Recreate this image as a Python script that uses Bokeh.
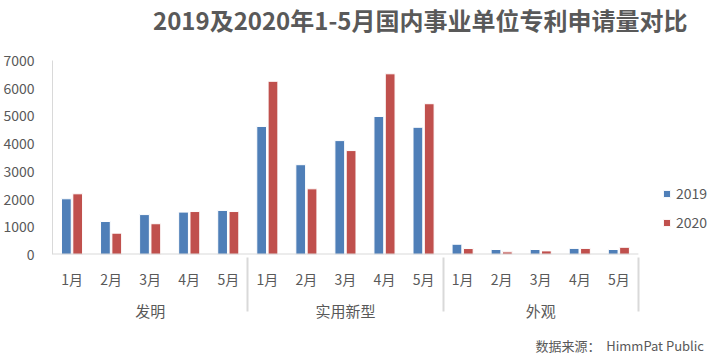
from bokeh.plotting import figure
from bokeh.models import ColumnDataSource, FactorRange, Range1d, Legend, LegendItem, Div
from bokeh.layouts import column
from bokeh.transform import dodge
from bokeh.embed import file_html
from bokeh.resources import INLINE

groups = ["发明", "实用新型", "外观"]
months = ["1月", "2月", "3月", "4月", "5月"]
v2019 = [2010, 1190, 1440, 1530, 1590,
         4620, 3240, 4110, 4980, 4590,
         370, 180, 180, 220, 180]
v2020 = [2190, 770, 1110, 1550, 1550,
         6250, 2370, 3750, 6520, 5440,
         215, 95, 130, 220, 260]
yticks = [0, 1000, 2000, 3000, 4000, 5000, 6000, 7000]
series = ["2019", "2020"]
colors = ["#4F7FB8", "#C0504D"]
title_text = "2019及2020年1-5月国内事业单位专利申请量对比"
source_text = "数据来源：&nbsp;&nbsp;HimmPat Public"

factors = [(g, m) for g in groups for m in months]
# empty slots on the right of the category axis, leaving room for the legend
pad_factors = [(" ", " "), (" ", "  ")]
src = ColumnDataSource(dict(x=factors, y2019=v2019, y2020=v2020))
base = ColumnDataSource(dict(x0=[factors[0]], x1=[factors[-1]], y=[0]))

FONT = "Noto Sans CJK SC"
GRAY = "#595959"
AXIS = "#D9D9D9"

head = Div(text=title_text, width=718, height=30,
           styles={"font-family": FONT, "font-size": "24px", "font-weight": "bold",
                   "color": GRAY, "padding-left": "148px", "line-height": "30px",
                   "white-space": "nowrap", "box-sizing": "border-box", "width": "718px"})

p = figure(width=718, height=292, output_backend="svg", toolbar_location=None,
           x_range=FactorRange(*(factors + pad_factors), group_padding=0, factor_padding=0,
                               range_padding=0),
           y_range=Range1d(0, 7000),
           min_border_left=51, min_border_right=2, min_border_top=20, min_border_bottom=78,
           background_fill_color="white", border_fill_color="white")
p.outline_line_color = None
p.grid.visible = False

r1 = p.vbar(x=dodge("x", -0.145, range=p.x_range), top="y2019", width=0.25, source=src,
            fill_color=colors[0], line_color="white", line_width=1)
r2 = p.vbar(x=dodge("x", 0.145, range=p.x_range), top="y2020", width=0.25, source=src,
            fill_color=colors[1], line_color="white", line_width=1)
# category axis baseline, spanning only the real categories
p.segment(x0=dodge("x0", -0.5, range=p.x_range), x1=dodge("x1", 0.5, range=p.x_range),
          y0="y", y1="y", source=base, line_color=AXIS, line_width=2)

# y axis
p.yaxis.ticker = yticks
p.yaxis.major_tick_line_color = None
p.yaxis.minor_tick_line_color = None
p.yaxis.axis_line_color = AXIS
p.yaxis.major_label_text_color = GRAY
p.yaxis.major_label_text_font = FONT
p.yaxis.major_label_text_font_size = "14px"
p.yaxis.major_label_standoff = 12

# x axis
xa = p.xaxis[0]
xa.axis_line_color = None
xa.major_tick_line_color = None
xa.minor_tick_line_color = None
xa.major_label_text_color = GRAY
xa.major_label_text_font = FONT
xa.major_label_text_font_size = "14px"
xa.major_label_standoff = 8
xa.group_text_color = GRAY
xa.group_text_font = FONT
xa.group_text_font_size = "15px"
xa.group_text_font_style = "normal"
xa.separator_line_color = AXIS
xa.separator_line_width = 2

legend = Legend(items=[LegendItem(label=series[0], renderers=[r1]),
                       LegendItem(label=series[1], renderers=[r2])],
                location=(610, 20), orientation="vertical", margin=0, padding=0,
                label_text_font=FONT, label_text_font_size="14px", label_text_color=GRAY,
                glyph_width=9, glyph_height=9, label_height=24, spacing=5, label_standoff=5,
                border_line_color=None, background_fill_alpha=0)
p.add_layout(legend, "center")

note = Div(text=source_text, width=718, height=30,
           styles={"text-align": "right", "font-family": FONT, "font-size": "13px",
                   "color": GRAY, "padding-right": "19px", "line-height": "18px",
                   "box-sizing": "border-box", "width": "718px"})

layout = column(head, p, note, spacing=0)
open("out.html", "w").write(file_html(layout, INLINE))
